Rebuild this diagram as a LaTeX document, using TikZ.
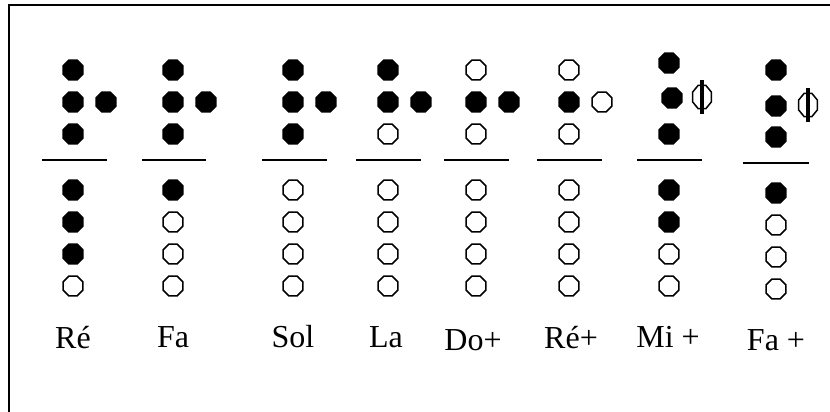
\documentclass[tikz,border=0pt]{standalone}
\usepackage{fontspec}
\setmainfont{Liberation Serif}
\usetikzlibrary{shapes.geometric}
\tikzset{
  hole/.style={regular polygon, regular polygon sides=8, minimum size=21.5pt,
    inner sep=0pt, outer sep=0pt, draw, line width=1.5pt},
  shut/.style={hole, fill=black},
  free/.style={hole, fill=white},
  slit/.style={line width=4.5pt},
  rule/.style={line width=1.2pt},
  note/.style={anchor=base, inner sep=0pt, font=\fontsize{32}{38}\selectfont}
}
\begin{document}
\begin{tikzpicture}[x=1pt,y=-1pt]
  \useasboundingbox (0,0) rectangle (830,412);
  \draw[line width=2.4pt] (9,412) -- (9,5) -- (830,5);

  % upper holes, plain columns
  \foreach \c/\x/\t/\m/\s/\l in {re/73/shut/shut/shut/shut, fa/173/shut/shut/shut/shut,
      sol/293/shut/shut/shut/shut, la/388/shut/shut/shut/free,
      dop/476/free/shut/shut/free, rep/569/free/shut/free/free} {
    \node[\t] (\c-1) at (\x,70) {};
    \node[\m] (\c-2) at (\x,102) {};
    \node[\s] (\c-s) at (\x+33,102) {};
    \node[\l] (\c-3) at (\x,134) {};
  }

  % upper holes, half-holed columns
  \node[shut] (mip-1) at (669,63) {};
  \node[shut] (mip-2) at (672,98) {};
  \node[free, xscale=.82, transform shape, minimum size=25pt] (mip-s) at (702,97) {};
  \node[shut] (mip-3) at (669,134) {};
  \draw[slit] ([yshift=5pt]mip-s.north) -- ([yshift=-5pt]mip-s.south);

  \node[shut] (fap-1) at (776,70) {};
  \node[shut] (fap-2) at (776,106) {};
  \node[free, xscale=.82, transform shape, minimum size=25pt] (fap-s) at (808,105) {};
  \node[shut] (fap-3) at (776,137) {};
  \draw[slit] ([yshift=5pt]fap-s.north) -- ([yshift=-5pt]fap-s.south);

  % separating rules
  \foreach \a/\b/\y in {42/107/160, 142/206/160, 262/327/160, 356/421/160,
      444/509/160, 537/602/160, 637/702/160, 743/809/163}
    \draw[rule] (\a,\y) -- (\b,\y);

  % lower holes
  \foreach \c/\x/\y/\p/\q/\r/\u in {re/73/190/shut/shut/shut/free,
      fa/173/190/shut/free/free/free, sol/293/190/free/free/free/free,
      la/388/190/free/free/free/free, dop/476/190/free/free/free/free,
      rep/569/190/free/free/free/free, mip/669/190/shut/shut/free/free,
      fap/776/193/shut/free/free/free} {
    \node[\p] (\c-4) at (\x,\y) {};
    \node[\q] (\c-5) at (\x,\y+32) {};
    \node[\r] (\c-6) at (\x,\y+64) {};
    \node[\u] (\c-7) at (\x,\y+96) {};
  }

  % note names
  \foreach \c/\x/\y/\t in {re/73/348/Ré, fa/173/347/Fa, sol/293/347/Sol,
      la/386/347/La, dop/473/350/Do+, rep/571/348/Ré+, mip/668/347/Mi +,
      fap/776/350/Fa +}
    \node[note] (\c-name) at (\x,\y) {\t};
\end{tikzpicture}
\end{document}
